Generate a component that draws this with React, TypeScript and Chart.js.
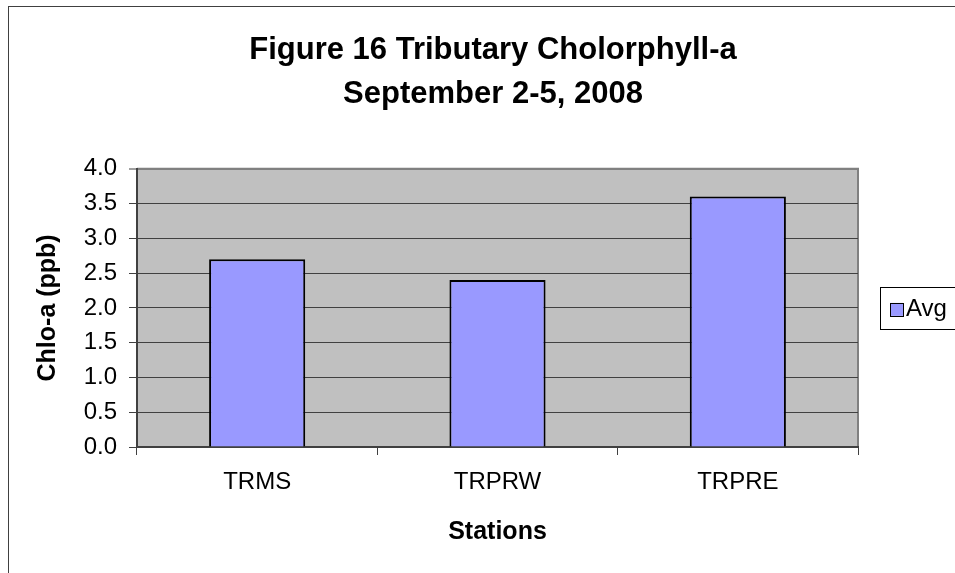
import React, { useEffect, useRef } from 'react';
import { Chart, registerables } from 'chart.js';

Chart.register(...registerables);

const categories = ['TRMS', 'TRPRW', 'TRPRE'];
const avgValues = [2.7, 2.4, 3.6];
const seriesLabel = 'Avg';
const titleLines = ['Figure 16 Tributary Cholorphyll-a', 'September 2-5, 2008'];
const xTitle = 'Stations';
const yTitle = 'Chlo-a (ppb)';
const yMin = 0;
const yMax = 4;
const yStep = 0.5;

const FONT = "'Liberation Sans', Arial, Helvetica, sans-serif";
const BAR_FILL = '#9999FF';
const PLOT_BG = '#C0C0C0';
const GRID = '#404040';

const framePlugin = {
  id: 'excelFrame',
  beforeDraw(chart: any) {
    const { ctx, chartArea: a, width, height } = chart;
    ctx.save();
    ctx.fillStyle = '#ffffff';
    ctx.fillRect(0, 0, width, height);
    ctx.strokeStyle = '#404040';
    ctx.lineWidth = 1;
    ctx.strokeRect(8.5, 6.5, width + 50, height + 50);
    ctx.fillStyle = PLOT_BG;
    ctx.fillRect(a.left, a.top, a.right - a.left, a.bottom - a.top);
    ctx.strokeStyle = '#808080';
    ctx.lineWidth = 2;
    ctx.beginPath();
    ctx.moveTo(a.left, a.top);
    ctx.lineTo(a.right, a.top);
    ctx.lineTo(a.right, a.bottom);
    ctx.stroke();
    ctx.restore();
  },
};

const legendPlugin = {
  id: 'excelLegend',
  afterDraw(chart: any) {
    const { ctx, chartArea: a } = chart;
    const ds = chart.data.datasets[0];
    const cy = (a.top + a.bottom) / 2;
    const x = a.right + 22;
    const h = 42;
    ctx.save();
    ctx.fillStyle = '#ffffff';
    ctx.fillRect(x, cy - h / 2, 110, h);
    ctx.strokeStyle = '#000000';
    ctx.lineWidth = 1;
    ctx.strokeRect(Math.round(x) + 0.5, Math.round(cy - h / 2) + 0.5, 110, h);
    ctx.fillStyle = ds.backgroundColor;
    ctx.fillRect(x + 10, cy - 5, 13, 13);
    ctx.strokeRect(Math.round(x + 10) + 0.5, Math.round(cy - 5) + 0.5, 13, 13);
    ctx.fillStyle = '#000000';
    ctx.font = `24px ${FONT}`;
    ctx.textBaseline = 'middle';
    ctx.textAlign = 'left';
    ctx.fillText(ds.label, x + 26, cy + 1);
    ctx.restore();
  },
};

export default function App() {
  const canvasRef = useRef<HTMLCanvasElement | null>(null);

  useEffect(() => {
    const canvas = canvasRef.current;
    if (!canvas) return;
    const chart = new Chart(canvas, {
      type: 'bar',
      data: {
        labels: categories,
        datasets: [
          {
            label: seriesLabel,
            data: avgValues,
            backgroundColor: BAR_FILL,
            borderColor: '#000000',
            borderWidth: 2,
            barPercentage: 0.4,
            categoryPercentage: 1.0,
            yAxisID: 'y',
          },
        ],
      },
      options: {
        animation: false,
        responsive: false,
        devicePixelRatio: 1,
        layout: { padding: { left: 0, right: 0, top: 0, bottom: 0 } },
        plugins: {
          legend: { display: false },
          tooltip: { enabled: false },
          title: {
            display: true,
            text: titleLines,
            color: '#000000',
            font: { family: FONT, size: 31, weight: 'bold', lineHeight: 1.4 },
            padding: { top: 29, bottom: 53 },
          },
        },
        scales: {
          x: {
            ticks: {
              color: '#000000',
              font: { family: FONT, size: 24 },
              padding: 13,
              maxRotation: 0,
            },
            grid: {
              offset: true,
              drawOnChartArea: false,
              drawTicks: true,
              tickLength: 8,
              tickColor: GRID,
              tickWidth: 1,
            },
            border: { display: true, color: GRID, width: 2 },
            title: {
              display: true,
              text: xTitle,
              color: '#000000',
              font: { family: FONT, size: 25, weight: 'bold' },
              padding: { top: 0, bottom: 53 },
            },
            afterFit: (s: any) => {
              s.height = 153;
            },
          },
          y: {
            min: yMin,
            max: yMax,
            ticks: {
              stepSize: yStep,
              color: '#000000',
              font: { family: FONT, size: 24 },
              padding: 12,
              callback: (v: any) => Number(v).toFixed(1),
            },
            grid: {
              color: (c: any) => (c.tick && c.tick.value === yMax ? '#808080' : GRID),
              lineWidth: (c: any) => (c.tick && c.tick.value === yMax ? 2 : 1),
              drawTicks: true,
              tickLength: 8,
              tickColor: GRID,
              tickWidth: 1,
            },
            border: { display: true, color: GRID, width: 2 },
            title: {
              display: true,
              text: yTitle,
              color: '#000000',
              font: { family: FONT, size: 25, weight: 'bold' },
              padding: { top: 33, bottom: 0 },
            },
            afterFit: (s: any) => {
              s.width = 137;
            },
          },
          legendSpace: {
            type: 'linear',
            position: 'right',
            display: true,
            ticks: { display: false },
            grid: { display: false, drawTicks: false },
            border: { display: false },
            afterFit: (s: any) => {
              s.width = 128;
            },
          },
        },
      } as any,
      plugins: [framePlugin, legendPlugin],
    });
    return () => chart.destroy();
  }, []);

  return (
    <div
      style={{
        position: 'absolute',
        left: 0,
        top: 0,
        width: 955,
        height: 573,
        overflow: 'hidden',
        background: '#ffffff',
      }}
    >
      <canvas ref={canvasRef} width={986} height={600} style={{ display: 'block' }} />
    </div>
  );
}
